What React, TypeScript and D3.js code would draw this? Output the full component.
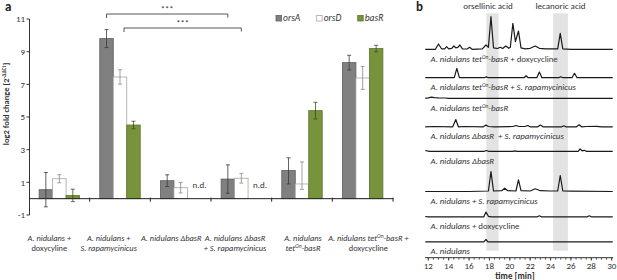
import React from 'react';
import * as d3 from 'd3';

// ---------- Panel a data ----------
const seriesNames = ['orsA', 'orsD', 'basR'];
const catLabels = [
  ['A. nidulans +', '|doxycyline|'],
  ['A. nidulans +', 'S. rapamycinicus'],
  ['A. nidulans ΔbasR'],
  ['A. nidulans ΔbasR', '+ S. rapamycinicus'],
  ['A. nidulans', 'tet^On^-basR'],
  ['A. nidulans tet^On^-basR +', '|doxycycline|'],
];
const orsA = [0.55, 9.8, 1.1, 1.2, 1.72, 8.33];
const orsAErrUp = [1.05, 0.55, 0.36, 0.87, 0.78, 0.45];
const orsAErrDown = [1.05, 0.55, 0.36, 0.87, 0.82, 0.45];
const orsD = [1.22, 7.45, 0.67, 1.25, 0.9, 7.39];
const orsDErrUp = [0.25, 0.44, 0.32, 0.3, 1.35, 0.7];
const orsDErrDown = [0.25, 0.44, 0.32, 0.3, 0.33, 0.7];
const basR: (number | null)[] = [0.2, 4.51, null, null, 5.39, 9.19];
const basRErrUp = [0.38, 0.23, 0, 0, 0.51, 0.2];
const basRErrDown = [0.38, 0.23, 0, 0, 0.51, 0.2];
const yTicks = [-1, 1, 3, 5, 7, 9, 11];
const sigPairs = [
  { from: [1, 0], to: [3, 0], label: '***' },
  { from: [1, 1], to: [3, 1], label: '***' },
];

// ---------- Panel b data ----------
const timeTicks = [12, 14, 16, 18, 20, 22, 24, 26, 28, 30];
const bands = [
  { label: 'orsellinic acid', from: 17.7, to: 18.9 },
  { label: 'lecanoric acid', from: 24.25, to: 25.7 },
];
const traceLabels = [
  'A. nidulans tet^On^-basR + |doxycycline|',
  'A. nidulans tet^On^-basR + S. rapamycinicus',
  'A. nidulans tet^On^-basR',
  'A. nidulans ΔbasR  + S. rapamycinicus',
  'A. nidulans ΔbasR',
  'A. nidulans + S. rapamycinicus',
  'A. nidulans + |doxycycline|',
  'A. nidulans',
];
const trace1: [number, number][] = [[11.7,0],[12.7,0],[13.0,5.3],[13.3,0.5],[13.6,0.5],[13.8,2.7],[14.0,0.5],[14.3,1],[14.5,3.3],[14.7,1.5],[14.9,2],[15.1,4.3],[15.35,0.5],[15.8,0.3],[16.05,2],[16.3,0],[17.3,0.5],[17.66,4.3],[17.9,2],[18.15,32.6],[18.4,1.5],[18.8,0.8],[19.06,2],[19.3,0.8],[19.6,3.3],[19.9,1],[20.05,2],[20.3,26],[20.55,7.7],[20.85,18.3],[21.1,1.5],[21.5,0.5],[22.0,1],[22.5,3.3],[22.9,1],[23.5,0.5],[24.7,0.5],[24.95,16],[25.2,0.5],[26,0],[30.1,0]];
const trace2: [number, number][] = [[11.7,0],[14.55,0],[14.8,9.4],[15.05,0],[17.5,0],[17.7,0.8],[17.9,0],[21.4,0],[21.6,2],[21.8,0],[22.65,0],[22.9,5.7],[23.15,0],[24.8,0],[25.0,1],[25.2,0],[26.1,0],[26.35,4.4],[26.6,0],[30.1,0]];
const trace3: [number, number][] = [[11.7,0],[12.0,0.5],[12.3,1.2],[12.6,0.6],[13.0,0.4],[13.6,0.3],[14.0,0],[30.1,0]];
const trace4: [number, number][] = [[11.7,0],[12.5,0.3],[14.4,0],[14.7,7.3],[14.95,0],[15.5,0.3],[17.4,0],[17.65,1.7],[17.9,0.3],[18.5,0],[20.3,0.3],[20.6,1.3],[20.9,0.3],[21.5,0.3],[21.75,1.3],[22.0,0],[22.75,0],[23.0,1.7],[23.25,0],[25.1,0],[25.3,1],[25.5,0],[26.55,0],[26.8,2],[27.05,0],[27.5,0.3],[28.5,0.5],[29,0],[30.1,0]];
const trace5: [number, number][] = [[11.7,0.8],[12.1,0],[17.5,0],[17.7,0.8],[17.9,0],[20.3,0],[20.5,0.5],[20.7,0],[26.7,0],[26.9,2.3],[27.1,0.5],[27.3,1],[27.5,0],[30.1,0]];
const trace6: [number, number][] = [[11.7,0],[16,0],[17.9,0.5],[18.15,20],[18.4,0.5],[19.2,0.8],[19.5,3.3],[19.8,0.8],[20.6,0.5],[20.85,11.7],[21.1,0.8],[22.0,0.5],[22.5,2.7],[23.0,0.8],[24.0,0.5],[24.7,0.5],[24.95,16],[25.2,0.5],[26,0.3],[30.1,0]];
const trace7: [number, number][] = [[11.7,0.3],[12.0,0],[17.45,0],[17.66,4.7],[17.9,0.5],[18.2,0],[22.7,0],[22.9,1],[23.1,0],[27.6,0],[27.8,1],[28.0,0],[30.1,0]];
const trace8: [number, number][] = [[11.7,0],[17.45,0],[17.66,2.3],[17.85,0],[30.1,0]];
const traces = [trace1, trace2, trace3, trace4, trace5, trace6, trace7, trace8];

// ---------- styles ----------
const FONT = "Carlito, Lato, 'Open Sans', sans-serif";
const fills = ['#808080', '#ffffff', '#77933c'];
const strokes = ['#5f5f5f', '#a6a6a6', '#5f7530'];
const errColors = ['#3a3a3a', '#8a8a8a', '#3d4d1f'];

function rich(s: string, supSize: number, baseItalic = true) {
  const parts: { t: string; sup: boolean; up: boolean }[] = [];
  let sup = false, up = false, buf = '';
  const push = () => { if (buf) parts.push({ t: buf, sup, up }); buf = ''; };
  for (const ch of s) {
    if (ch === '^') { push(); sup = !sup; }
    else if (ch === '|') { push(); up = !up; }
    else buf += ch;
  }
  push();
  let shift = 0;
  return parts.map((p, i) => {
    const target = p.sup ? -3 : 0;
    const dy = target - shift;
    shift = target;
    return (
      <tspan key={i} dy={dy} fontSize={p.sup ? supSize : undefined}
        fontStyle={p.up || !baseItalic ? 'normal' : 'italic'}>{p.t}</tspan>
    );
  });
}

export default function App() {
  // Panel a scales
  const x0 = d3.scaleBand<number>().domain(d3.range(6)).range([29, 393]).padding(0);
  const x1 = d3.scaleBand<string>().domain(seriesNames).range([0, x0.bandwidth()]).paddingInner(0).paddingOuter(0.75);
  const y = d3.scaleLinear().domain([-1, 11]).range([215, 19]);
  const y0 = y(0);
  const values = [orsA, orsD, basR];
  const errUp = [orsAErrUp, orsDErrUp, basRErrUp];
  const errDown = [orsAErrDown, orsDErrDown, basRErrDown];
  const labelShift = [-10, -11.3, -9.4, -6.3, 1, 5.7];

  // Panel b scales
  const tx = d3.scaleLinear().domain([12, 30]).range([428.3, 611.7]);
  const inten = d3.scaleLinear().domain([0, 35]).range([0, 35]);
  const baselines = [49.3, 77.7, 98.3, 126.8, 151.3, 191.5, 216.8, 241.8];
  const line = (base: number) => d3.line<[number, number]>().x(d => tx(d[0])).y(d => base - inten(d[1]));
  const minorTicks = d3.range(12, 30.01, 0.5);

  const barX = (c: number, s: number) => (x0(c) as number) + (x1(seriesNames[s]) as number);

  return (
    <svg width={617} height={280} style={{ position: 'absolute', left: 0, top: 0, background: '#fff' }} fontFamily={FONT}>
      {/* ===== Panel a ===== */}
      <text x={5} y={11} fontSize={13} fontWeight="bold" fill="#222">a</text>
      {/* y axis */}
      <line x1={29.5} x2={29.5} y1={y(11)} y2={y(-1)} stroke="#333" strokeWidth={1} />
      {yTicks.map(t => (
        <g key={t}>
          <line x1={26.5} x2={29.5} y1={y(t)} y2={y(t)} stroke="#333" />
          <text x={25} y={y(t) + 3.2} fontSize={9} textAnchor="end" fill="#333">{t}</text>
        </g>
      ))}
      <text transform={`translate(9, ${104}) rotate(-90)`} textAnchor="middle" fontSize={8.5} fontWeight="bold" fill="#333">
        {'log2 fold change [2'}<tspan dy={-3} fontSize={5.5}>{'-ΔΔCt'}</tspan><tspan dy={3}>{']'}</tspan>
      </text>
      {/* bars */}
      {values.map((vals, s) => vals.map((v, c) => v === null ? null : (
        <rect key={`${s}-${c}`} x={barX(c, s)} width={x1.bandwidth()} y={Math.min(y(v), y0)} height={Math.abs(y0 - y(v))}
          fill={fills[s]} stroke={strokes[s]} strokeWidth={0.8} />
      )))}
      {/* x axis */}
      <line x1={29} x2={393.5} y1={y0} y2={y0} stroke="#222" strokeWidth={1} />
      {d3.range(7).map(i => {
        const xx = i < 6 ? (x0(i) as number) : 393;
        return i === 0 ? null : <line key={i} x1={xx} x2={xx} y1={y0 - 1} y2={y0 + 3} stroke="#222" />;
      })}
      {/* error bars */}
      {values.map((vals, s) => vals.map((v, c) => {
        if (v === null || (errUp[s][c] === 0 && errDown[s][c] === 0)) return null;
        const cx = barX(c, s) + x1.bandwidth() / 2;
        const hi = y(v + errUp[s][c]);
        const lo = y(v - errDown[s][c]);
        return (
          <g key={`e${s}-${c}`} stroke={errColors[s]} strokeWidth={0.8}>
            <line x1={cx} x2={cx} y1={hi} y2={lo} />
            <line x1={cx - 2} x2={cx + 2} y1={hi} y2={hi} />
            <line x1={cx - 2} x2={cx + 2} y1={lo} y2={lo} />
          </g>
        );
      }))}
      {/* n.d. */}
      {basR.map((v, c) => v === null ? (
        <text key={`nd${c}`} x={barX(c, 2) + 5} y={y0 - 10.5} fontSize={9} fill="#333">n.d.</text>
      ) : null)}
      {/* significance brackets */}
      {sigPairs.map((p, i) => {
        const xa = barX(p.from[0], p.from[1]) + x1.bandwidth() / 2 + (i === 1 ? 4 : 0);
        const xb = barX(p.to[0], p.to[1]) + x1.bandwidth() / 2;
        const yy = i === 0 ? 14 : 28;
        return (
          <g key={`sig${i}`}>
            <path d={`M${xa},${yy + 4}V${yy}H${xb}V${yy + 3.5}`} fill="none" stroke="#444" strokeWidth={0.9} />
            <text x={(xa + xb) / 2} y={yy - 2} fontSize={8.5} textAnchor="middle" fill="#333">{p.label}</text>
          </g>
        );
      })}
      {/* legend */}
      {seriesNames.map((n, i) => {
        const lx = [276, 316.7, 357.7][i];
        return (
          <g key={n}>
            <rect x={lx} y={15.5} width={5.5} height={5.5} fill={fills[i]} stroke={strokes[i]} strokeWidth={0.8} />
            <text x={lx + 7} y={21} fontSize={9.5} fontStyle="italic" fill="#333">{n}</text>
          </g>
        );
      })}
      {/* category labels */}
      {catLabels.map((lines, c) => {
        const cx = (x0(c) as number) + x0.bandwidth() / 2 + labelShift[c];
        return lines.map((ln, k) => (
          <text key={`cl${c}-${k}`} x={cx} y={240.5 + k * 10} fontSize={8.4} textAnchor="middle" fill="#333" style={{ whiteSpace: 'pre' }}>
            {rich(ln, 5.5)}
          </text>
        ));
      })}

      {/* ===== Panel b ===== */}
      <text x={416} y={11} fontSize={13} fontWeight="bold" fill="#222">b</text>
      {bands.map(b => (
        <g key={b.label}>
          <rect x={tx(b.from)} width={tx(b.to) - tx(b.from)} y={13.3} height={250.7 - 13.3} fill="#e3e3e3" />
          <text x={(tx(b.from) + tx(b.to)) / 2 - (b.from < 20 ? 4.5 : 0)} y={8.5} fontSize={9} textAnchor="middle" fill="#333">{b.label}</text>
        </g>
      ))}
      {traces.map((tr, i) => (
        <path key={`tr${i}`} d={line(baselines[i])(tr) as string} fill="none" stroke="#1a1a1a" strokeWidth={1.2} strokeLinejoin="round" />
      ))}
      {traceLabels.map((l, i) => (
        <text key={`tl${i}`} x={430.5} y={baselines[i] + 12.5} fontSize={8.8} fill="#333" style={{ whiteSpace: 'pre' }}>
          {rich(l, 5.5)}
        </text>
      ))}
      {/* time axis */}
      <line x1={425} x2={613} y1={257.7} y2={257.7} stroke="#333" />
      {minorTicks.map(t => (
        <line key={`mt${t}`} x1={tx(t)} x2={tx(t)} y1={257.7} y2={259.7} stroke="#333" strokeWidth={0.8} />
      ))}
      {timeTicks.map(t => (
        <g key={`tt${t}`}>
          <line x1={tx(t)} x2={tx(t)} y1={257.7} y2={260.7} stroke="#333" strokeWidth={0.8} />
          <text x={tx(t)} y={269} fontSize={9} textAnchor="middle" fill="#333">{t}</text>
        </g>
      ))}
      <text x={515} y={278.5} fontSize={9} fontWeight="bold" textAnchor="middle" fill="#333">time [min]</text>
    </svg>
  );
}
